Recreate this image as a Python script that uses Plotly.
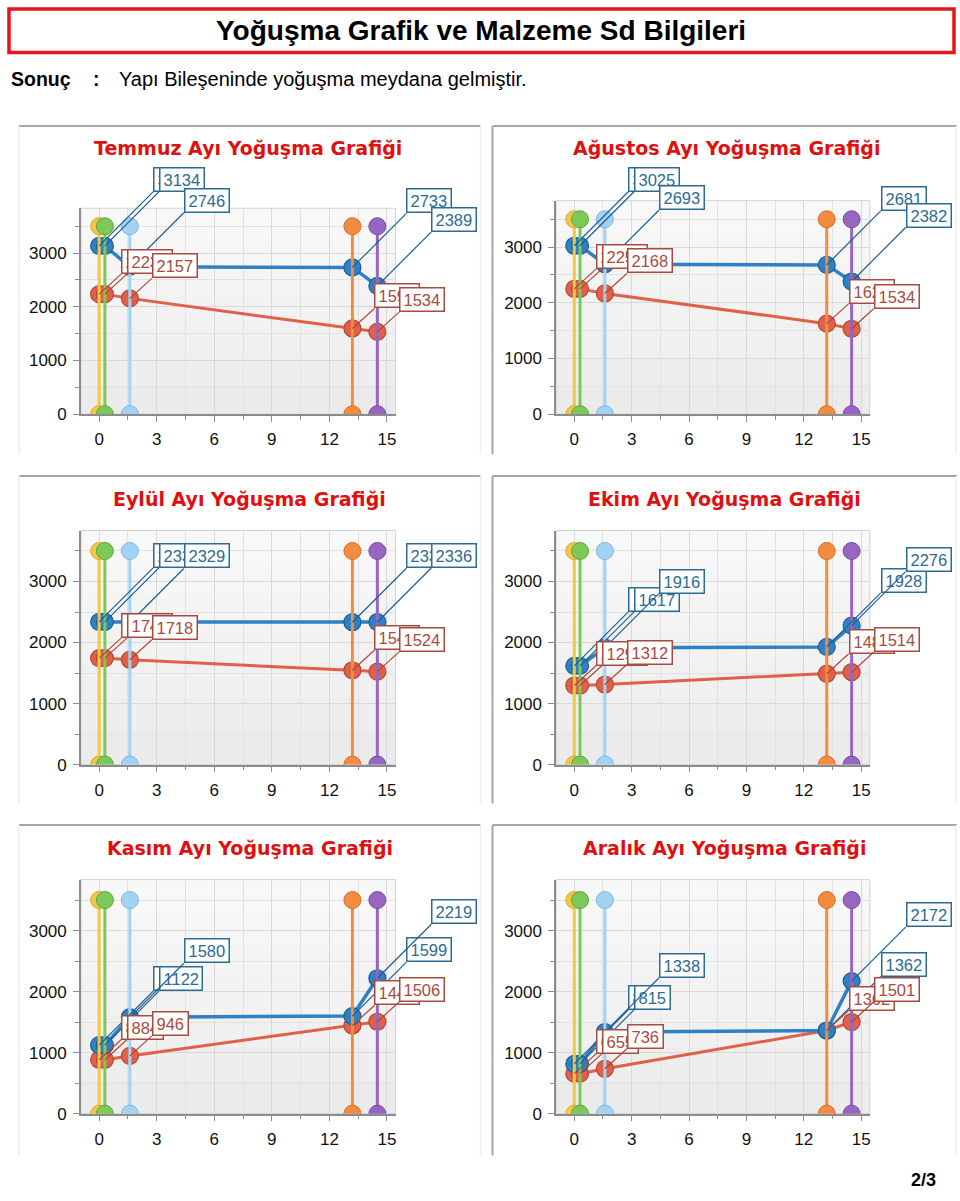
import plotly.graph_objects as go

# ---------------- data ----------------
months = ["Temmuz", "Ağustos", "Eylül", "Ekim", "Kasım", "Aralık"]
titles = [m + " Ayı Yoğuşma Grafiği" for m in months]

# layer boundary positions (cm)
layer_x = [0, 0.3, 1.6, 13.2, 14.5]
layer_colors = ["#f2c745", "#7cc95a", "#a3d3f2", "#f28c40", "#9666c0"]
layer_edge = ["#d9a92a", "#5ea83e", "#7fb6da", "#d66e26", "#7a4aa5"]
layer_top = 3500

# saturation vapour pressure (blue) per month at each boundary
sat_temmuz = [3134, 3134, 2746, 2733, 2389]
sat_agustos = [3025, 3025, 2693, 2681, 2382]
sat_eylul = [2338, 2338, 2329, 2333, 2336]
sat_ekim = [1617, 1617, 1916, 1928, 2276]
sat_kasim = [1122, 1122, 1580, 1599, 2219]
sat_aralik = [815, 815, 1338, 1362, 2172]

# partial vapour pressure (red) per month at each boundary
vap_temmuz = [2236, 2236, 2157, 1597, 1534]
vap_agustos = [2250, 2250, 2168, 1626, 1534]
vap_eylul = [1745, 1745, 1718, 1546, 1524]
vap_ekim = [1295, 1295, 1312, 1489, 1514]
vap_kasim = [884, 884, 946, 1445, 1506]
vap_aralik = [655, 655, 736, 1362, 1501]

sat_all = [sat_temmuz, sat_agustos, sat_eylul, sat_ekim, sat_kasim, sat_aralik]
vap_all = [vap_temmuz, vap_agustos, vap_eylul, vap_ekim, vap_kasim, vap_aralik]

x_ticks = [0, 3, 6, 9, 12, 15]
y_ticks = [0, 1000, 2000, 3000]

header_title = "Yoğuşma Grafik ve Malzeme Sd Bilgileri"
result_label = "Sonuç"
result_text = "Yapı Bileşeninde yoğuşma meydana gelmiştir."
page_no = "2/3"

# ---------------- layout geometry (pixels) ----------------
W, H = 960, 1201
def px_x(p):
    return p / W
def px_y(p):
    return 1 - p / H

# plot-area boxes: (left, right, top, bottom) in px
boxes = [
    (81, 396, 210, 417.7),
    (556.7, 870.7, 202.3, 417.7),
    (81, 396, 535, 771),
    (556.7, 870.7, 535, 771),
    (81, 396, 887, 1123),
    (556.7, 870.7, 887, 1123),
]
title_pos = [(248, 149), (727, 149), (250, 503), (725, 503), (250, 855), (725, 855)]

# background shading bands (bottom -> top) of each plot area
band_fills = ["#ebebeb", "#eeeeee", "#f0f0f0", "#f2f2f2", "#f4f4f4", "#f6f6f6", "#f8f8f8"]

BLUE = "#2f80c4"
BLUE_EDGE = "#1f5f93"
BLUE_TXT = "#2b6b94"
RED = "#e0604a"
RED_EDGE = "#b24836"
RED_TXT = "#a84a3e"

BASEFONT = "Liberation Sans, Arial, sans-serif"
TICKFONT = dict(family=BASEFONT, size=17, color="#111111")

fig = go.Figure()
layout = dict(
    width=W, height=H,
    margin=dict(l=0, r=0, t=0, b=0),
    paper_bgcolor="white",
    plot_bgcolor="#f3f3f3",
    showlegend=False,
)
annotations = []
shapes = []

for i in range(6):
    xa = "x" if i == 0 else f"x{i+1}"
    ya = "y" if i == 0 else f"y{i+1}"
    xkey = "xaxis" if i == 0 else f"xaxis{i+1}"
    ykey = "yaxis" if i == 0 else f"yaxis{i+1}"
    l, r, t, b = boxes[i]
    layout[xkey] = dict(
        domain=[px_x(l), px_x(r)], anchor=ya, range=[-0.95, 15.45],
        tickmode="array", tickvals=x_ticks, ticks="outside", ticklen=6,
        tickcolor="#8c8c8c", tickfont=TICKFONT, showline=True,
        linecolor="#8c8c8c", linewidth=1.5, showgrid=True, gridcolor="#d9d9d9",
        zeroline=False, fixedrange=True, ticklabelstandoff=3,
        minor=dict(dtick=1.5, tick0=0, ticks="outside", ticklen=4,
                   tickcolor="#8c8c8c", showgrid=True, gridcolor="#e2e2e2"),
    )
    layout[ykey] = dict(
        domain=[px_y(b), px_y(t)], anchor=xa, range=[0, 3835],
        tickmode="array", tickvals=y_ticks, ticks="outside", ticklen=6,
        tickcolor="#8c8c8c", tickfont=TICKFONT, showline=True,
        linecolor="#8c8c8c", linewidth=1.5, showgrid=True, gridcolor="#d9d9d9",
        zeroline=False, fixedrange=True, ticklabelstandoff=3,
        minor=dict(dtick=500, tick0=0, ticks="outside", ticklen=4,
                   tickcolor="#8c8c8c", showgrid=True, gridcolor="#e2e2e2"),
    )
    # soft vertical shading of the plot area
    nb = len(band_fills)
    for j, fc in enumerate(band_fills):
        shapes.append(dict(type="rect", xref=f"{xa} domain", yref=f"{ya} domain",
                           x0=0, x1=1, y0=j / nb, y1=(j + 1) / nb,
                           fillcolor=fc, line=dict(width=0), layer="below"))
    # light frame round the plot area
    shapes.append(dict(type="rect", xref=f"{xa} domain", yref=f"{ya} domain",
                       x0=0, x1=1, y0=0, y1=1, line=dict(color="#d2d2d2", width=1),
                       layer="below"))

    sat = sat_all[i]
    vap = vap_all[i]
    fig.add_trace(go.Scatter(
        x=layer_x, y=vap, xaxis=xa, yaxis=ya, mode="lines+markers",
        line=dict(color=RED, width=3),
        marker=dict(size=17, color=RED, line=dict(color=RED_EDGE, width=1.2)),
        hoverinfo="skip"))
    fig.add_trace(go.Scatter(
        x=layer_x, y=sat, xaxis=xa, yaxis=ya, mode="lines+markers",
        line=dict(color=BLUE, width=3.5),
        marker=dict(size=17, color=BLUE, line=dict(color=BLUE_EDGE, width=1.2)),
        hoverinfo="skip"))
    for k, lx in enumerate(layer_x):
        fig.add_trace(go.Scatter(
            x=[lx, lx], y=[0, layer_top], xaxis=xa, yaxis=ya, mode="lines+markers",
            line=dict(color=layer_colors[k], width=3),
            marker=dict(size=17, color=layer_colors[k],
                        line=dict(color=layer_edge[k], width=1)),
            hoverinfo="skip"))

    # value labels: blue
    for k, lx in enumerate(layer_x):
        annotations.append(dict(
            x=lx, y=sat[k], xref=xa, yref=ya, text=str(sat[k]),
            showarrow=True, arrowhead=0, arrowwidth=1.2, arrowcolor=BLUE_EDGE,
            ax=54, ay=-54, xanchor="left", yanchor="bottom", standoff=0,
            font=dict(family=BASEFONT, size=16.5, color=BLUE_TXT),
            bgcolor="white", bordercolor=BLUE_TXT, borderwidth=1.5, borderpad=3,
            height=16))
    # value labels: red
    for k, lx in enumerate(layer_x):
        annotations.append(dict(
            x=lx, y=vap[k], xref=xa, yref=ya, text=str(vap[k]),
            showarrow=True, arrowhead=0, arrowwidth=1.2, arrowcolor=RED_EDGE,
            ax=22, ay=-20, xanchor="left", yanchor="bottom", standoff=0,
            font=dict(family=BASEFONT, size=16.5, color=RED_TXT),
            bgcolor="white", bordercolor=RED_TXT, borderwidth=1.5, borderpad=3,
            height=16))

    # panel title
    tx, ty = title_pos[i]
    annotations.append(dict(
        x=px_x(tx), y=px_y(ty), xref="paper", yref="paper", text=titles[i],
        showarrow=False, xanchor="center", yanchor="middle",
        font=dict(family="DejaVu Sans, Verdana, sans-serif", size=19, color="#e01010",
                  weight="bold")))

# panel frames
row_tb = [(127, 458), (480, 810), (832, 1165)]
for (top, bot) in row_tb:
    # left column
    shapes.append(dict(type="line", xref="paper", yref="paper",
                       x0=px_x(19), x1=px_x(481), y0=px_y(top), y1=px_y(top),
                       line=dict(color="#a6a6a6", width=2)))
    shapes.append(dict(type="line", xref="paper", yref="paper",
                       x0=px_x(19), x1=px_x(19), y0=px_y(top), y1=px_y(bot),
                       line=dict(color="#ececec", width=1.5)))
    shapes.append(dict(type="line", xref="paper", yref="paper",
                       x0=px_x(481), x1=px_x(481), y0=px_y(top), y1=px_y(bot),
                       line=dict(color="#efefef", width=1.5)))
    # right column
    shapes.append(dict(type="line", xref="paper", yref="paper",
                       x0=px_x(493), x1=px_x(958), y0=px_y(top), y1=px_y(top),
                       line=dict(color="#a6a6a6", width=2)))
    shapes.append(dict(type="line", xref="paper", yref="paper",
                       x0=px_x(493), x1=px_x(493), y0=px_y(top), y1=px_y(bot),
                       line=dict(color="#a6a6a6", width=2)))
    shapes.append(dict(type="line", xref="paper", yref="paper",
                       x0=px_x(957), x1=px_x(957), y0=px_y(top), y1=px_y(bot),
                       line=dict(color="#efefef", width=1.5)))

# header box
shapes.append(dict(type="rect", xref="paper", yref="paper",
                   x0=px_x(9), x1=px_x(955), y0=px_y(53), y1=px_y(9),
                   line=dict(color="#e8141b", width=3.5), fillcolor="white"))
annotations.append(dict(
    x=px_x(482), y=px_y(31), xref="paper", yref="paper", text=header_title,
    showarrow=False, xanchor="center", yanchor="middle",
    font=dict(family=BASEFONT, size=28, color="#000000", weight="bold")))
annotations.append(dict(
    x=px_x(9), y=px_y(80), xref="paper", yref="paper", text=result_label,
    showarrow=False, xanchor="left", yanchor="middle",
    font=dict(family=BASEFONT, size=19.5, color="#000000", weight="bold")))
annotations.append(dict(
    x=px_x(97), y=px_y(80), xref="paper", yref="paper", text=":",
    showarrow=False, xanchor="center", yanchor="middle",
    font=dict(family=BASEFONT, size=19.5, color="#000000", weight="bold")))
annotations.append(dict(
    x=px_x(117), y=px_y(80), xref="paper", yref="paper", text=result_text,
    showarrow=False, xanchor="left", yanchor="middle",
    font=dict(family=BASEFONT, size=20, color="#000000")))
annotations.append(dict(
    x=px_x(939), y=px_y(1190), xref="paper", yref="paper", text=page_no,
    showarrow=False, xanchor="right", yanchor="middle",
    font=dict(family=BASEFONT, size=18, color="#000000", weight="bold")))

layout["annotations"] = annotations
layout["shapes"] = shapes
fig.update_layout(**layout)

fig.write_html("out.html", config={"displayModeBar": False},
               post_script="document.body.style.margin='0px';")
